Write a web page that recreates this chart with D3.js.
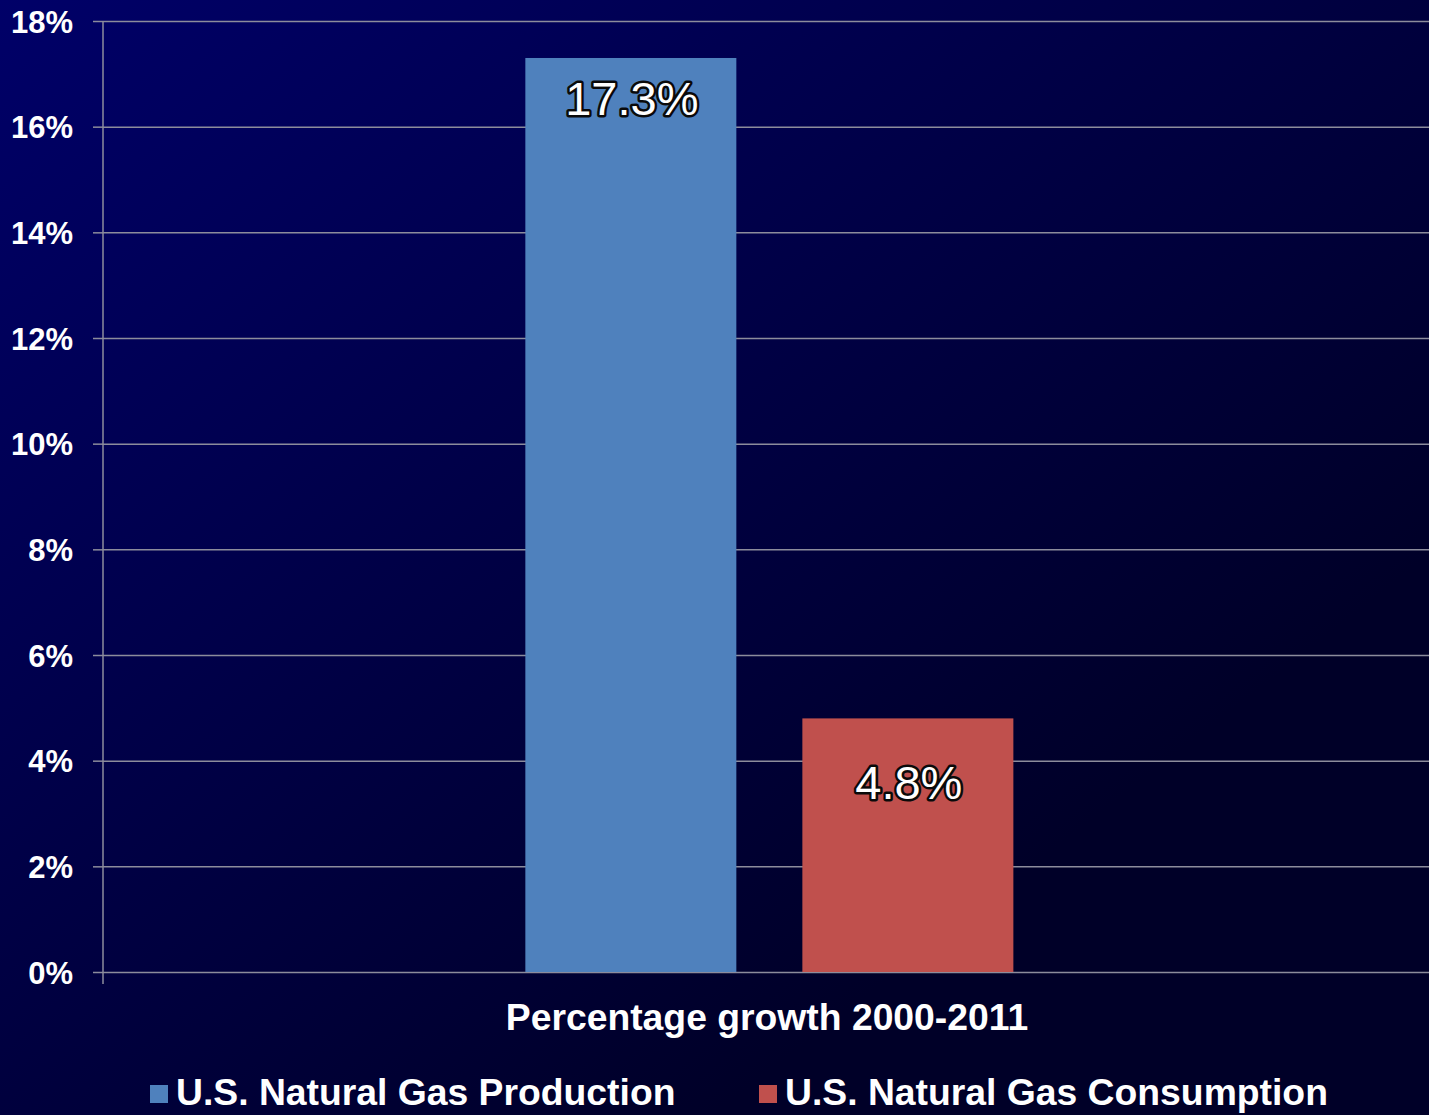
<!DOCTYPE html>
<html><head><meta charset="utf-8">
<script src="https://cdn.jsdelivr.net/npm/d3@7"></script>
<style>html,body{margin:0;padding:0;background:#000033;}svg{display:block;}</style>
</head><body>
<script>
const categories = ["Percentage growth 2000-2011"];
const seriesNames = ["U.S. Natural Gas Production", "U.S. Natural Gas Consumption"];
const seriesValues = [17.3, 4.8];
const valueLabels = ["17.3%", "4.8%"];
const seriesColors = ["#4F81BD", "#C0504D"];
const yTicks = [0, 2, 4, 6, 8, 10, 12, 14, 16, 18];

const W = 1429, H = 1115;
const m = {left: 103, right: 0, top: 21, bottom: 143};
const labelOffsets = [57, 81];
const svg = d3.select("body").append("svg").attr("width", W).attr("height", H);
const defs = svg.append("defs");
const g0 = defs.append("linearGradient").attr("id", "bg")
  .attr("x1", "0").attr("y1", "0").attr("x2", "0.75").attr("y2", "0.75");
g0.append("stop").attr("offset", "0").attr("stop-color", "#000068");
g0.append("stop").attr("offset", "0.55").attr("stop-color", "#000045");
g0.append("stop").attr("offset", "1").attr("stop-color", "#000028");
svg.append("rect").attr("width", W).attr("height", H).attr("fill", "url(#bg)");

const y = d3.scaleLinear().domain([0, 18]).range([H - m.bottom, m.top]);
const x0 = d3.scaleBand().domain(categories).range([m.left, W - m.right]).paddingInner(0).paddingOuter(0);
const x1 = d3.scaleBand().domain(seriesNames).range([0, x0.bandwidth()])
  .paddingInner(0.2383).paddingOuter(1.5125).align(0.504);

// grid lines
const grid = svg.append("g").attr("transform", `translate(${m.left},0)`)
  .call(d3.axisLeft(y).tickValues(yTicks).tickSize(-(W - m.left)).tickFormat(""));
grid.select(".domain").remove();
grid.selectAll(".tick line").attr("stroke", "#8c8c9c").attr("stroke-width", 1.5);
grid.selectAll(".tick").append("line").attr("x1", -10).attr("x2", 0)
  .attr("stroke", "#8c8c9c").attr("stroke-width", 1.5);

// bars
const cat = svg.append("g").selectAll("g").data(categories).join("g")
  .attr("transform", d => `translate(${x0(d)},0)`);
const barData = seriesNames.map((s, i) => ({s, v: seriesValues[i], c: seriesColors[i], l: valueLabels[i], i}));
cat.selectAll("rect").data(barData)
  .join("rect")
  .attr("x", d => x1(d.s)).attr("width", x1.bandwidth())
  .attr("y", d => y(d.v)).attr("height", d => y(0) - y(d.v))
  .attr("fill", d => d.c);
cat.selectAll("text").data(barData)
  .join("text")
  .attr("x", d => x1(d.s) + x1.bandwidth() / 2 + 1)
  .attr("y", d => y(d.v) + labelOffsets[d.i])
  .attr("text-anchor", "middle")
  .attr("font-family", "Liberation Sans, Arial, sans-serif")
  .attr("font-size", 47)
  .attr("fill", "#ffffff").attr("stroke", "#0a0a0a").attr("stroke-width", 5)
  .attr("stroke-linejoin", "round").attr("paint-order", "stroke")
  .text(d => d.l);

// y axis
const yAxis = svg.append("g").attr("transform", `translate(${m.left},0)`)
  .call(d3.axisLeft(y).tickValues(yTicks).tickSize(0).tickPadding(30).tickFormat(d => d + "%"));
yAxis.select(".domain").remove();
yAxis.selectAll("text").attr("fill", "#ffffff").attr("font-family", "Liberation Sans, Arial, sans-serif")
  .attr("font-weight", "bold").attr("font-size", 31).attr("dy", "0.36em");
svg.append("line").attr("x1", m.left).attr("x2", m.left).attr("y1", m.top).attr("y2", y(0) + 12)
  .attr("stroke", "#8c8c9c").attr("stroke-width", 1.5);

// x axis label
svg.append("g").selectAll("text").data(categories).join("text")
  .attr("x", d => x0(d) + x0.bandwidth() / 2 + 1).attr("y", 1030)
  .attr("text-anchor", "middle").attr("fill", "#ffffff")
  .attr("font-family", "Liberation Sans, Arial, sans-serif").attr("font-weight", "bold").attr("font-size", 37.3)
  .text(d => d);

// legend
const legX = [150, 759];
const leg = svg.append("g").selectAll("g").data(seriesNames).join("g")
  .attr("transform", (d, i) => `translate(${legX[i]},1085)`);
leg.append("rect").attr("width", 18).attr("height", 18).attr("fill", (d, i) => seriesColors[i]);
leg.append("text").attr("x", 26).attr("y", 20).attr("fill", "#ffffff")
  .attr("font-family", "Liberation Sans, Arial, sans-serif").attr("font-weight", "bold").attr("font-size", 37.3)
  .text(d => d);
</script>
</body></html>
